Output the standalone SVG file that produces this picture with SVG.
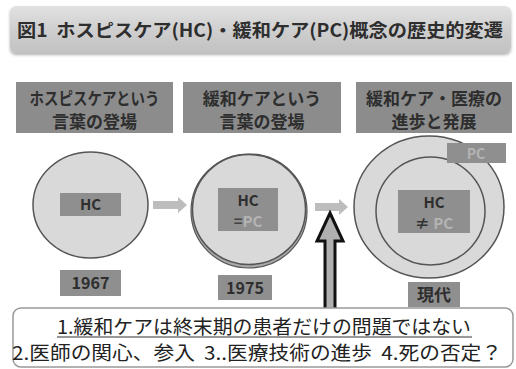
<svg xmlns="http://www.w3.org/2000/svg" width="516" height="369" viewBox="0 0 516 369">
<defs>
<linearGradient id="tg" x1="0" y1="0" x2="0" y2="1">
<stop offset="0" stop-color="#e2e2e2"/>
<stop offset="0.5" stop-color="#cfcfcf"/>
<stop offset="1" stop-color="#c2c2c2"/>
</linearGradient>
<filter id="sh" x="-5%" y="-20%" width="110%" height="150%">
<feDropShadow dx="0" dy="2" stdDeviation="1.5" flood-color="#000" flood-opacity="0.3"/>
</filter>
</defs>
<style>
text{font-family:"Noto Sans CJK JP","Noto Sans CJK SC",sans-serif;fill:#2e2e2e;font-weight:bold}
.hdr{fill:#8c8c8c}
.lbl{fill:#8f8f8f}
.circ{fill:#d9d9d9;stroke:#555;stroke-width:1.5}
.light{fill:#b4b4b4}
.garrow{fill:#bdbdbd}
.plain{font-weight:normal;fill:#222}
</style>
<g id="title">
<rect x="10" y="6" width="501" height="47" rx="6" fill="url(#tg)" filter="url(#sh)"/>
<text xml:space="preserve" x="260" y="37" font-size="18" text-anchor="middle" textLength="486" lengthAdjust="spacingAndGlyphs">図1  ホスピスケア(HC)・緩和ケア(PC)概念の歴史的変遷</text>
</g>
<g id="header1">
<rect class="hdr" x="16" y="82" width="157" height="51"/>
<text x="94.5" y="105" font-size="17" text-anchor="middle" textLength="130" lengthAdjust="spacingAndGlyphs">ホスピスケアという</text>
<text x="94.5" y="128" font-size="17" text-anchor="middle">言葉の登場</text>
</g>
<g id="header2">
<rect class="hdr" x="183" y="82" width="158" height="51"/>
<text x="262" y="105" font-size="17" text-anchor="middle">緩和ケアという</text>
<text x="262" y="128" font-size="17" text-anchor="middle">言葉の登場</text>
</g>
<g id="header3">
<rect class="hdr" x="356" y="82" width="156" height="51"/>
<text x="434" y="105" font-size="17" text-anchor="middle">緩和ケア・医療の</text>
<text x="434" y="128" font-size="17" text-anchor="middle">進歩と発展</text>
</g>
<g id="hc1967">
<ellipse class="circ" cx="90.5" cy="205" rx="57.5" ry="53"/>
<rect class="lbl" x="60" y="193" width="61" height="23"/>
<text x="90.5" y="210" font-size="15" text-anchor="middle">HC</text>
<rect class="lbl" x="60" y="270" width="61" height="26"/>
<text x="90.5" y="289" font-size="16" text-anchor="middle">1967</text>
</g>
<g id="hc1975">
<ellipse cx="249" cy="211" rx="58" ry="57" fill="#a8a8a8" stroke="#555" stroke-width="1.2"/>
<ellipse class="circ" cx="249" cy="209.5" rx="56.5" ry="55"/>
<rect class="lbl" x="218" y="188" width="60" height="43"/>
<text x="248" y="206" font-size="15" text-anchor="middle">HC</text>
<text x="248" y="227" font-size="15" text-anchor="middle"><tspan fill="#444">=</tspan><tspan class="light">PC</tspan></text>
<rect class="lbl" x="218" y="275" width="54" height="25"/>
<text x="245" y="294" font-size="16" text-anchor="middle">1975</text>
</g>
<g id="present">
<ellipse class="circ" cx="429" cy="207" rx="75" ry="71"/>
<ellipse class="circ" cx="430.5" cy="211" rx="54.5" ry="54"/>
<rect class="lbl" x="447" y="143" width="59" height="20"/>
<text x="476" y="159" font-size="14" text-anchor="middle" class="light">PC</text>
<rect class="lbl" x="398" y="190" width="72" height="43"/>
<text x="434" y="208" font-size="15" text-anchor="middle">HC</text>
<text x="434" y="229" font-size="15" text-anchor="middle"><tspan fill="#333">≠ </tspan><tspan class="light">PC</tspan></text>
<rect class="lbl" x="408" y="282" width="52" height="25"/>
<text x="434" y="301" font-size="17" text-anchor="middle">現代</text>
</g>
<g id="connectors">
<polygon class="garrow" points="153,201 178,201 178,197 187,205 178,213 178,209 153,209"/>
<polygon class="garrow" points="315,203 339,203 339,199 348,207 339,215 339,211 315,211"/>
<polygon points="330,213 343,241 335,241 335,310 325,310 325,241 317,241" fill="#b0b0b0" stroke="#111" stroke-width="3" stroke-linejoin="miter"/>
</g>
<g id="factors">
<rect x="13" y="308" width="500" height="59" rx="8" fill="#fff" stroke="#999" stroke-width="1.5"/>
<text class="plain" x="264" y="334" font-size="19" text-anchor="middle" textLength="414" lengthAdjust="spacingAndGlyphs">1.緩和ケアは終末期の患者だけの問題ではない</text>
<line x1="57" y1="337" x2="472" y2="337" stroke="#333" stroke-width="1"/>
<text class="plain" xml:space="preserve" x="257" y="360" font-size="19" text-anchor="middle" textLength="490" lengthAdjust="spacingAndGlyphs">2.医師の関心、参入  3..医療技術の進歩  4.死の否定？</text>
</g>
</svg>
